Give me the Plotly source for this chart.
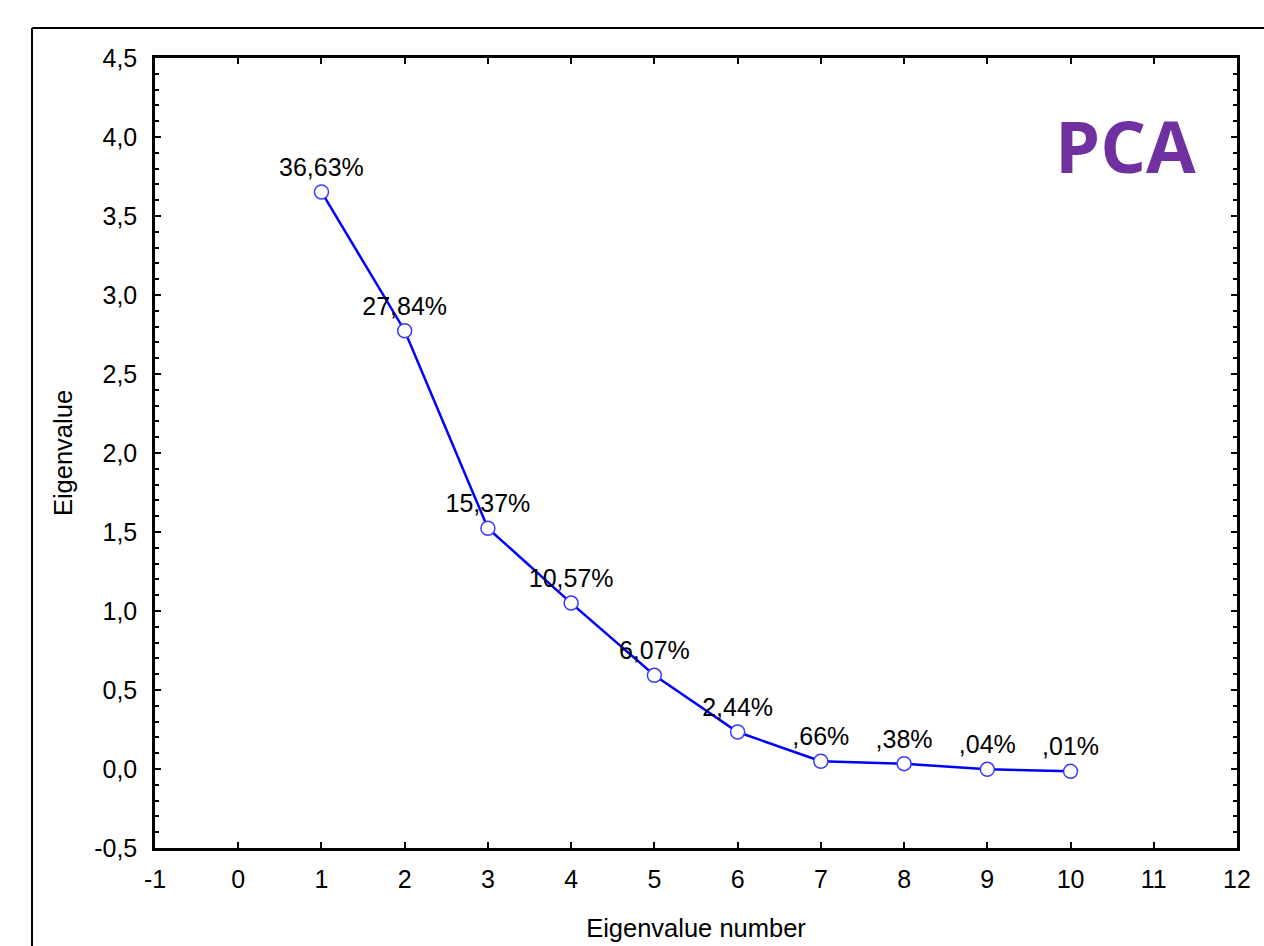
import plotly.graph_objects as go

eigen_number = [1, 2, 3, 4, 5, 6, 7, 8, 9, 10]
eigenvalues = [3.652, 2.774, 1.524, 1.05, 0.593, 0.234, 0.049, 0.034, -0.002, -0.015]
pct_labels = ["36,63%", "27,84%", "15,37%", "10,57%", "6,07%", "2,44%", ",66%", ",38%", ",04%", ",01%"]

x_ticks = [-1, 0, 1, 2, 3, 4, 5, 6, 7, 8, 9, 10, 11, 12]
x_ticktext = ["-1", "0", "1", "2", "3", "4", "5", "6", "7", "8", "9", "10", "11", "12"]
y_ticks = [-0.5, 0.0, 0.5, 1.0, 1.5, 2.0, 2.5, 3.0, 3.5, 4.0, 4.5]
y_ticktext = ["-0,5", "0,0", "0,5", "1,0", "1,5", "2,0", "2,5", "3,0", "3,5", "4,0", "4,5"]

FONT = "Liberation Sans, Arial, sans-serif"

fig = go.Figure()
fig.add_trace(go.Scatter(
    x=eigen_number, y=eigenvalues, text=pct_labels,
    mode="lines+markers+text",
    textposition="top center",
    textfont=dict(family=FONT, size=25, color="black"),
    line=dict(color="#0000FF", width=2.5),
    marker=dict(symbol="circle", size=14, color="white",
                line=dict(color="#3A3AFF", width=1.5)),
    cliponaxis=False,
    showlegend=False,
))

W, H = 1264, 946
L, R, T, B = 155, 27, 58, 98
pw, ph = W - L - R, H - T - B
fx = (32 - L) / pw
fy = (H - B - 28) / ph

fig.add_shape(type="line", xref="paper", yref="paper", x0=fx, x1=fx, y0=-0.3, y1=fy,
              line=dict(color="black", width=2))
fig.add_shape(type="line", xref="paper", yref="paper", x0=fx, x1=1.2, y0=fy, y1=fy,
              line=dict(color="black", width=2))

fig.add_annotation(text="<b>PCA</b>", xref="paper", yref="paper",
                   x=(1125 - L) / pw, y=(H - B - 145) / ph,
                   showarrow=False, xanchor="center", yanchor="middle",
                   font=dict(family="Open Sans, sans-serif", size=72, color="#7030A0"))

fig.update_layout(
    width=W, height=H,
    margin=dict(l=L, r=R, t=T, b=B, pad=0),
    paper_bgcolor="white", plot_bgcolor="white",
    font=dict(family=FONT, size=24, color="black"),
    xaxis=dict(
        range=[-1, 12], tickvals=x_ticks, ticktext=x_ticktext,
        showgrid=False, zeroline=False, automargin=False,
        showline=True, linecolor="black", linewidth=2.5, mirror="ticks",
        ticks="inside", ticklen=6, tickwidth=2, tickcolor="black",
        ticklabelstandoff=7,
        tickfont=dict(family=FONT, size=25, color="black"),
        title=dict(text="Eigenvalue number", standoff=28,
                   font=dict(family=FONT, size=25.5, color="black")),
    ),
    yaxis=dict(
        range=[-0.5, 4.5], tickvals=y_ticks, ticktext=y_ticktext,
        showgrid=False, zeroline=False, automargin=False,
        showline=True, linecolor="black", linewidth=2.5, mirror="ticks",
        ticks="inside", ticklen=6, tickwidth=2, tickcolor="black",
        ticklabelstandoff=10,
        minor=dict(dtick=0.1, ticks="inside", ticklen=4, tickwidth=1.5, tickcolor="black", showgrid=False),
        tickfont=dict(family=FONT, size=25, color="black"),
        title=dict(text="Eigenvalue", standoff=15,
                   font=dict(family=FONT, size=25.5, color="black")),
    ),
)

fig.write_html("out.html")
